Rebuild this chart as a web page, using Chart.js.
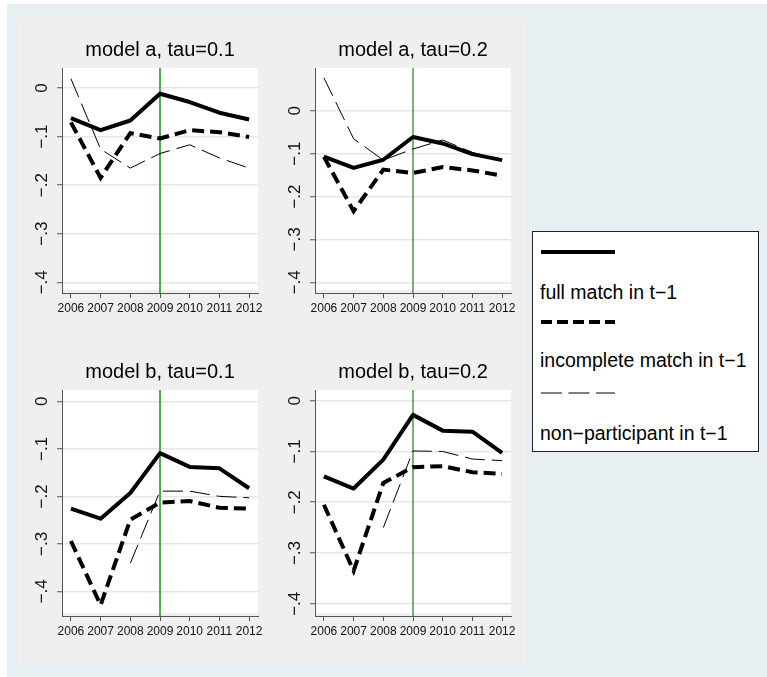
<!DOCTYPE html>
<html>
<head>
<meta charset="utf-8">
<title>Gap by match status in t-1</title>
<script src="https://cdn.jsdelivr.net/npm/chart.js@4.4.1/dist/chart.umd.min.js"></script>
<style>
  html, body { margin: 0; padding: 0; background: #fff; }
  body { width: 767px; height: 677px; position: relative; overflow: hidden;
         font-family: 'Liberation Sans', Arial, sans-serif; }
  #outer { position: absolute; left: 7px; top: 4px; right: 0; bottom: 0; background: #e8eff2; }
  #inner { position: absolute; left: 18px; top: 18px; width: 508px; height: 646px; background: #efefef; }
  canvas { position: absolute; }
  #legend { position: absolute; left: 532px; top: 231px; width: 225px; height: 219px;
            border: 1px solid #222; background: #fff; }
  #legend svg { position: absolute; left: 8px; }
  #legend span { position: absolute; left: 7px; font-size: 19.5px; line-height: 24px; color: #000; white-space: nowrap; }
</style>
</head>
<body>
<div id="outer"></div>
<div id="inner"></div>
<canvas id="panelA1"></canvas>
<canvas id="panelA2"></canvas>
<canvas id="panelB1"></canvas>
<canvas id="panelB2"></canvas>

<div id="legend">
  <svg style="top:16px" width="76" height="8"><line x1="0" y1="4" x2="74" y2="4" stroke="#000" stroke-width="4"/></svg>
  <span style="top:48px">full match in t−1</span>
  <svg style="top:86px" width="76" height="8"><line x1="0" y1="4" x2="74" y2="4" stroke="#000" stroke-width="4" stroke-dasharray="11 5"/></svg>
  <span style="top:116px">incomplete match in t−1</span>
  <svg style="top:157px" width="76" height="8"><line x1="0" y1="4" x2="74" y2="4" stroke="#000" stroke-width="1" stroke-dasharray="21 6.5"/></svg>
  <span style="top:189px">non−participant in t−1</span>
</div>

<script>
const years = [2006, 2007, 2008, 2009, 2010, 2011, 2012];
const reformYear = 2009;
const yTickValues = [-0.4, -0.3, -0.2, -0.1, 0];
const yTickLabels = ['−.4', '−.3', '−.2', '−.1', '0'];

// model a, tau=0.1
const fullA1 = [-0.062, -0.087, -0.067, -0.012, -0.029, -0.051, -0.065];
const incompleteA1 = [-0.071, -0.185, -0.093, -0.104, -0.087, -0.091, -0.101];
const nonPartA1 = [0.019, -0.126, -0.165, -0.135, -0.117, -0.144, -0.165];

// model a, tau=0.2
const fullA2 = [-0.107, -0.133, -0.114, -0.061, -0.076, -0.101, -0.115];
const incompleteA2 = [-0.107, -0.234, -0.137, -0.145, -0.131, -0.139, -0.151];
const nonPartA2 = [0.077, -0.065, -0.115, -0.089, -0.068, -0.097, -0.115];

// model b, tau=0.1
const fullB1 = [-0.226, -0.247, -0.193, -0.109, -0.138, -0.141, -0.183];
const incompleteB1 = [-0.294, -0.429, -0.249, -0.213, -0.210, -0.224, -0.226];
const nonPartB1 = [null, null, -0.341, -0.189, -0.189, -0.200, -0.203];

// model b, tau=0.2
const fullB2 = [-0.149, -0.173, -0.116, -0.028, -0.059, -0.061, -0.103];
const incompleteB2 = [-0.205, -0.335, -0.162, -0.131, -0.129, -0.141, -0.144];
const nonPartB2 = [null, null, -0.250, -0.099, -0.100, -0.115, -0.118];

const FONT = "'Liberation Sans', Arial, sans-serif";
const Y_AXIS_W = 40;
const X_AXIS_H = 28;
const TITLE_H = 30;
const PAD_RIGHT = 16;

Chart.defaults.font.family = FONT;

/**
 * White plot region plus the vertical marker at the reform year
 */
const panelDecor = {
  id: 'panelDecor',
  beforeDraw(chart) {
    const { ctx, chartArea: a } = chart;
    ctx.save();
    ctx.fillStyle = '#ffffff';
    ctx.fillRect(a.left, a.top, a.right - a.left, a.bottom - a.top - 3);
    ctx.restore();
  },
  beforeDatasetsDraw(chart, args, opts) {
    const { ctx, chartArea: a } = chart;
    const x = chart.scales.x.getPixelForValue(reformYear);
    ctx.save();
    ctx.strokeStyle = opts.color;
    ctx.lineWidth = opts.width;
    ctx.beginPath();
    ctx.moveTo(x, a.top);
    ctx.lineTo(x, a.bottom);
    ctx.stroke();
    ctx.restore();
  }
};

function toPoints(values) {
  return years.map((yr, i) => ({ x: yr, y: values[i] }));
}

/**
 * Build one panel so that its plot area lands on the given rectangle
 */
function makePanel(canvasId, area, title, full, incomplete, nonPart, yRange, marker) {
  const canvas = document.getElementById(canvasId);
  const left = area.left - Y_AXIS_W;
  const top = area.top - TITLE_H;
  const width = area.right - left + PAD_RIGHT;
  const height = area.bottom - top + X_AXIS_H;
  canvas.width = width;
  canvas.height = height;
  Object.assign(canvas.style, {
    left: left + 'px', top: top + 'px', width: width + 'px', height: height + 'px'
  });

  const lineBase = { pointRadius: 0, tension: 0, fill: false, borderColor: '#000', spanGaps: false };

  return new Chart(canvas, {
    type: 'line',
    data: {
      datasets: [
        { ...lineBase, label: 'full match in t-1', data: toPoints(full), borderWidth: 4, borderJoinStyle: 'round' },
        { ...lineBase, label: 'incomplete match in t-1', data: toPoints(incomplete), borderWidth: 4, borderDash: [12, 6] },
        { ...lineBase, label: 'non-participant in t-1', data: toPoints(nonPart), borderWidth: 1, borderDash: [20, 7] }
      ]
    },
    options: {
      responsive: false,
      animation: false,
      events: [],
      layout: { padding: { left: 0, top: 0, right: PAD_RIGHT, bottom: 0 } },
      plugins: {
        legend: { display: false },
        tooltip: { enabled: false },
        title: {
          display: true,
          text: title,
          fullSize: false,
          color: '#000',
          font: { size: 20, weight: 'normal' },
          padding: { top: 0, bottom: 6 }
        },
        panelDecor: marker
      },
      scales: {
        x: {
          type: 'linear',
          min: 2005.7,
          max: 2012.3,
          afterBuildTicks: s => { s.ticks = years.map(v => ({ value: v })); },
          afterFit: s => { s.height = X_AXIS_H; },
          ticks: {
            autoSkip: false, minRotation: 0, maxRotation: 0, padding: 3,
            color: '#111', font: { size: 12 },
            callback: v => String(v)
          },
          grid: { drawOnChartArea: false, tickLength: 5, tickColor: '#555', tickWidth: 1 },
          border: { display: true, color: '#555', width: 1 }
        },
        y: {
          type: 'linear',
          min: yRange[0],
          max: yRange[1],
          afterBuildTicks: s => { s.ticks = yTickValues.map(v => ({ value: v })); },
          afterFit: s => { s.width = Y_AXIS_W; },
          ticks: {
            minRotation: 90, maxRotation: 90, crossAlign: 'center', padding: 3,
            color: '#111', font: { size: 17 },
            callback: (v, i) => yTickLabels[i]
          },
          grid: { color: '#e6e6e6', lineWidth: 1.5, tickLength: 5, tickColor: '#555', tickWidth: 1 },
          border: { display: true, color: '#555', width: 1 }
        }
      }
    },
    plugins: [panelDecor]
  });
}

const leftMarker = { color: '#4fae4f', width: 2 };
const rightMarker = { color: '#1f7f1f', width: 1.2 };

makePanel('panelA1', { left: 62, right: 258, top: 68, bottom: 293 }, 'model a, tau=0.1',
  fullA1, incompleteA1, nonPartA1, [-0.422, 0.041], leftMarker);
makePanel('panelA2', { left: 315, right: 511, top: 68, bottom: 293 }, 'model a, tau=0.2',
  fullA2, incompleteA2, nonPartA2, [-0.425, 0.100], rightMarker);
makePanel('panelB1', { left: 62, right: 258, top: 390, bottom: 616 }, 'model b, tau=0.1',
  fullB1, incompleteB1, nonPartB1, [-0.452, 0.024], leftMarker);
makePanel('panelB2', { left: 315, right: 511, top: 390, bottom: 616 }, 'model b, tau=0.2',
  fullB2, incompleteB2, nonPartB2, [-0.424, 0.021], rightMarker);
</script>
</body>
</html>
